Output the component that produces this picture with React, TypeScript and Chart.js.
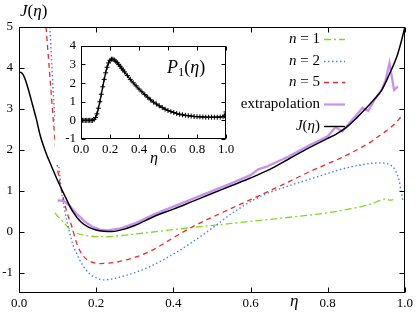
import React, { useEffect, useRef } from "react";
import { Chart, registerables } from "chart.js";
Chart.register(...registerables);

// ---------- data ----------
const xTicks = [0, 0.2, 0.4, 0.6, 0.8, 1.0];
const yTicks = [-1, 0, 1, 2, 3, 4, 5];
const insetXTicks = [0, 0.2, 0.4, 0.6, 0.8, 1.0];
const insetYTicks = [-1, 0, 1, 2, 3, 4];

const jEta = [0, 0.008, 0.015, 0.025, 0.035, 0.045, 0.055, 0.07, 0.085, 0.1, 0.12, 0.14, 0.16, 0.18, 0.2, 0.22, 0.24, 0.26, 0.3, 0.35, 0.4, 0.45, 0.5, 0.55, 0.6, 0.65, 0.7, 0.75, 0.8, 0.82, 0.85, 0.875, 0.9, 0.92, 0.94, 0.96, 0.98, 0.99, 1.0];
const jVal = [3.9, 3.87, 3.75, 3.45, 3.1, 2.75, 2.35, 1.92, 1.58, 1.25, 0.85, 0.48, 0.24, 0.11, 0.04, 0.01, 0.0, 0.03, 0.15, 0.37, 0.55, 0.74, 0.93, 1.12, 1.31, 1.52, 1.78, 2.04, 2.28, 2.37, 2.56, 2.78, 3.02, 3.23, 3.46, 3.85, 4.3, 4.62, 5.0];

const extEta = [0.1, 0.115, 0.13, 0.15, 0.17, 0.19, 0.21, 0.23, 0.26, 0.3, 0.35, 0.4, 0.45, 0.5, 0.55, 0.6, 0.62, 0.64, 0.7, 0.75, 0.8, 0.82, 0.838, 0.87, 0.89, 0.905, 0.92, 0.94, 0.95, 0.96, 0.972, 0.982];
const extVal = [0.76, 0.75, 0.64, 0.43, 0.25, 0.12, 0.05, 0.03, 0.07, 0.2, 0.42, 0.61, 0.8, 0.99, 1.18, 1.38, 1.52, 1.58, 1.84, 2.1, 2.33, 2.55, 2.45, 2.8, 3.02, 2.95, 3.2, 3.46, 3.7, 4.12, 3.46, 3.55];

const n1Eta = [0.093, 0.1, 0.114, 0.132, 0.15, 0.17, 0.2, 0.23, 0.27, 0.32, 0.4, 0.47, 0.55, 0.6, 0.65, 0.73, 0.8, 0.86, 0.9, 0.93, 0.95, 0.962, 0.97];
const n1Val = [0.46, 0.38, 0.24, 0.06, -0.04, -0.09, -0.12, -0.12, -0.09, -0.04, 0.05, 0.12, 0.2, 0.25, 0.3, 0.38, 0.46, 0.56, 0.64, 0.74, 0.8, 0.77, 0.78];

const n2Eta = [0.08, 0.085, 0.09, 0.097, 0.11, 0.12, 0.13, 0.14, 0.15, 0.165, 0.183, 0.2, 0.218, 0.25, 0.3, 0.34, 0.4, 0.45, 0.5, 0.56, 0.63, 0.7, 0.77, 0.83, 0.88, 0.93, 0.96, 0.975, 0.985, 0.99, 0.995];
const n2Val = [5.0, 4.1, 3.2, 2.3, 1.0, 0.45, 0.02, -0.33, -0.55, -0.82, -1.03, -1.13, -1.18, -1.14, -1.0, -0.85, -0.55, -0.25, 0.08, 0.5, 0.88, 1.12, 1.33, 1.51, 1.62, 1.68, 1.64, 1.5, 1.25, 1.0, 0.75];

const n5Eta = [0.07, 0.08, 0.09, 0.1, 0.114, 0.125, 0.137, 0.15, 0.165, 0.183, 0.21, 0.25, 0.3, 0.34, 0.4, 0.45, 0.5, 0.553, 0.6, 0.65, 0.7, 0.75, 0.8, 0.83, 0.86, 0.89, 0.91, 0.93, 0.95, 0.97, 0.985, 0.995];
const n5Val = [5.0, 3.8, 2.6, 1.55, 0.85, 0.45, 0.12, -0.3, -0.58, -0.72, -0.78, -0.75, -0.63, -0.48, -0.15, 0.12, 0.35, 0.58, 0.78, 1.0, 1.22, 1.45, 1.66, 1.78, 1.92, 2.07, 2.18, 2.32, 2.45, 2.6, 2.75, 2.87];

const p1Eta = [0, 0.01, 0.02, 0.03, 0.04, 0.05, 0.06, 0.07, 0.08, 0.09, 0.1, 0.11, 0.12, 0.13, 0.14, 0.15, 0.16, 0.17, 0.18, 0.19, 0.2, 0.21, 0.22, 0.23, 0.24, 0.25, 0.26, 0.27, 0.28, 0.29, 0.3, 0.32, 0.34, 0.36, 0.38, 0.4, 0.42, 0.44, 0.46, 0.48, 0.5, 0.52, 0.54, 0.56, 0.58, 0.6, 0.62, 0.64, 0.66, 0.68, 0.7, 0.72, 0.74, 0.76, 0.78, 0.8, 0.82, 0.84, 0.86, 0.88, 0.9, 0.92, 0.94, 0.96, 0.98, 0.99, 1.0];
const p1Val = [0, 0, 0, 0, 0, 0, 0, 0, 0, 0.05, 0.15, 0.35, 0.65, 1.0, 1.4, 1.8, 2.2, 2.55, 2.85, 3.08, 3.22, 3.28, 3.28, 3.24, 3.17, 3.09, 3.0, 2.9, 2.8, 2.7, 2.6, 2.4, 2.2, 2.02, 1.85, 1.68, 1.53, 1.38, 1.24, 1.1, 0.98, 0.88, 0.78, 0.69, 0.6, 0.53, 0.47, 0.42, 0.37, 0.33, 0.3, 0.27, 0.25, 0.23, 0.21, 0.2, 0.19, 0.18, 0.17, 0.17, 0.17, 0.17, 0.17, 0.18, 0.2, 0.25, 0.45];

// ---------- styles ----------
const FONT = "'Liberation Serif', 'Times New Roman', serif";
const GREEN = "#80d820";
const BLUE = "#4a80e0";
const RED = "#f02828";
const VIOLET = "#c890f0";
const BLACK = "#000000";

const pts = (xs: number[], ys: number[]) => xs.map((x, i) => ({ x, y: ys[i] }));

type Seg = { t: string; i?: boolean; sub?: boolean };
function richWidth(ctx: CanvasRenderingContext2D, segs: Seg[], size: number) {
  let w = 0;
  for (const s of segs) {
    ctx.font = `${s.i ? "italic " : ""}${s.sub ? size * 0.7 : size}px ${FONT}`;
    w += ctx.measureText(s.t).width;
  }
  return w;
}
function drawRich(ctx: CanvasRenderingContext2D, segs: Seg[], x: number, y: number, size: number, align: "left" | "right") {
  let cx = align === "right" ? x - richWidth(ctx, segs, size) : x;
  ctx.textAlign = "left";
  ctx.textBaseline = "middle";
  ctx.fillStyle = "#000";
  for (const s of segs) {
    ctx.font = `${s.i ? "italic " : ""}${s.sub ? size * 0.7 : size}px ${FONT}`;
    ctx.fillText(s.t, cx, s.sub ? y + size * 0.25 : y);
    cx += ctx.measureText(s.t).width;
  }
}

function frameAndTicks(xt: number[], yt: number[], len: number) {
  return {
    id: "frameTicks",
    afterDatasetsDraw(chart: any) {
      const { ctx, chartArea: a, scales } = chart;
      const L = Math.round(a.left) + 0.5, R = Math.round(a.right) - 0.5;
      const T = Math.round(a.top) + 0.5, B = Math.round(a.bottom) - 0.5;
      ctx.save();
      ctx.strokeStyle = "#000";
      ctx.lineWidth = 1;
      ctx.setLineDash([]);
      ctx.strokeRect(L, T, R - L, B - T);
      ctx.beginPath();
      for (const v of xt) {
        const px = Math.round(scales.x.getPixelForValue(v)) + 0.5;
        ctx.moveTo(px, B); ctx.lineTo(px, B - len);
        ctx.moveTo(px, T); ctx.lineTo(px, T + len);
      }
      for (const v of yt) {
        const py = Math.round(scales.y.getPixelForValue(v)) + 0.5;
        ctx.moveTo(L, py); ctx.lineTo(L + len, py);
        ctx.moveTo(R, py); ctx.lineTo(R - len, py);
      }
      ctx.stroke();
      ctx.restore();
    },
  };
}

const legendRows: { segs: Seg[]; color: string; dash: number[]; width: number }[] = [
  { segs: [{ t: "n", i: true }, { t: " = 1" }], color: GREEN, dash: [7, 3, 2, 3], width: 1.4 },
  { segs: [{ t: "n", i: true }, { t: " = 2" }], color: BLUE, dash: [1.5, 2.5], width: 1.4 },
  { segs: [{ t: "n", i: true }, { t: " = 5" }], color: RED, dash: [5, 4], width: 1.4 },
  { segs: [{ t: "extrapolation" }], color: VIOLET, dash: [], width: 2.2 },
  { segs: [{ t: "J", i: true }, { t: "(" }, { t: "η", i: true }, { t: ")" }], color: BLACK, dash: [], width: 1.4 },
];
const legendY = [39, 61, 82, 104, 126];

const mainDecor = {
  id: "mainDecor",
  afterDraw(chart: any) {
    const ctx = chart.ctx as CanvasRenderingContext2D;
    ctx.save();
    legendRows.forEach((r, k) => {
      const y = legendY[k];
      drawRich(ctx, r.segs, 320, y, 15, "right");
      ctx.beginPath();
      ctx.strokeStyle = r.color;
      ctx.lineWidth = r.width;
      ctx.setLineDash(r.dash);
      ctx.moveTo(324, y + 0.5);
      ctx.lineTo(345, y + 0.5);
      ctx.stroke();
    });
    ctx.setLineDash([]);
    drawRich(ctx, [{ t: "J", i: true }, { t: "(" }, { t: "η", i: true }, { t: ")" }], 20, 12, 17, "left");
    drawRich(ctx, [{ t: "η", i: true }], 290, 302, 17, "left");
    ctx.restore();
  },
};

const insetDecor = {
  id: "insetDecor",
  beforeDraw(chart: any) {
    const ctx = chart.ctx as CanvasRenderingContext2D;
    ctx.save();
    ctx.fillStyle = "#fff";
    ctx.fillRect(0, 0, 173, chart.height);
    ctx.restore();
  },
  afterDraw(chart: any) {
    const ctx = chart.ctx as CanvasRenderingContext2D;
    ctx.save();
    drawRich(ctx, [{ t: "P", i: true }, { t: "1", sub: true }, { t: "(" }, { t: "η", i: true }, { t: ")" }], 112, 35, 18, "left");
    drawRich(ctx, [{ t: "η", i: true }], 95, 126, 16, "left");
    ctx.restore();
  },
};

const tickFont = { family: FONT, size: 13 };

export default function App() {
  const mainRef = useRef<HTMLCanvasElement>(null);
  const insetRef = useRef<HTMLCanvasElement>(null);

  useEffect(() => {
    const common = (w: number) => ({ borderWidth: w, pointRadius: 0, fill: false });
    const main = new Chart(mainRef.current!, {
      type: "line",
      data: {
        datasets: [
          { label: "J", data: pts(jEta, jVal), borderColor: BLACK, ...common(1.5), cubicInterpolationMode: "monotone", order: 0 } as any,
          { label: "ext", data: pts(extEta, extVal), borderColor: VIOLET, ...common(2.3), tension: 0, order: 1 } as any,
          { label: "n5", data: pts(n5Eta, n5Val), borderColor: RED, borderDash: [5, 4], ...common(1.3), cubicInterpolationMode: "monotone", order: 2 } as any,
          { label: "n2", data: pts(n2Eta, n2Val), borderColor: BLUE, borderDash: [1.5, 2.5], ...common(1.4), cubicInterpolationMode: "monotone", order: 3 } as any,
          { label: "n1", data: pts(n1Eta, n1Val), borderColor: GREEN, borderDash: [7, 3, 2, 3], ...common(1.3), cubicInterpolationMode: "monotone", order: 4 } as any,
        ],
      },
      options: {
        animation: false,
        responsive: false,
        maintainAspectRatio: false,
        layout: { padding: { top: 27, right: 10, left: 0, bottom: 0 } },
        plugins: { legend: { display: false }, tooltip: { enabled: false } },
        scales: {
          x: {
            type: "linear", min: 0, max: 1,
            afterBuildTicks: (s: any) => { s.ticks = xTicks.map((v) => ({ value: v })); },
            afterFit: (s: any) => { s.height = 27; },
            ticks: { callback: (v: any) => Number(v).toFixed(1), font: tickFont, color: "#000", padding: 3, maxRotation: 0, autoSkip: false },
            grid: { display: false, drawTicks: false },
            border: { display: false },
          },
          y: {
            type: "linear", min: -1.5, max: 5,
            afterBuildTicks: (s: any) => { s.ticks = yTicks.map((v) => ({ value: v })); },
            afterFit: (s: any) => { s.width = 19; },
            ticks: { callback: (v: any) => String(v), font: tickFont, color: "#000", padding: 6 },
            grid: { display: false, drawTicks: false },
            border: { display: false },
          },
        },
      } as any,
      plugins: [frameAndTicks(xTicks, yTicks, 5), mainDecor],
    });

    const inset = new Chart(insetRef.current!, {
      type: "line",
      data: {
        datasets: [
          {
            label: "P1", data: pts(p1Eta, p1Val), borderColor: BLACK, borderWidth: 1.4,
            pointStyle: "cross", pointRadius: 2.5, pointBorderWidth: 1, pointBorderColor: BLACK,
            cubicInterpolationMode: "monotone", fill: false,
          } as any,
        ],
      },
      options: {
        animation: false,
        responsive: false,
        maintainAspectRatio: false,
        layout: { padding: { top: 8, right: 14, left: 0, bottom: 0 } },
        plugins: { legend: { display: false }, tooltip: { enabled: false } },
        scales: {
          x: {
            type: "linear", min: 0, max: 1,
            afterBuildTicks: (s: any) => { s.ticks = insetXTicks.map((v) => ({ value: v })); },
            afterFit: (s: any) => { s.height = 26; },
            ticks: { callback: (v: any) => Number(v).toFixed(1), font: tickFont, color: "#000", padding: 3, maxRotation: 0, autoSkip: false },
            grid: { display: false, drawTicks: false },
            border: { display: false },
          },
          y: {
            type: "linear", min: -1, max: 4,
            afterBuildTicks: (s: any) => { s.ticks = insetYTicks.map((v) => ({ value: v })); },
            afterFit: (s: any) => { s.width = 26; },
            ticks: { callback: (v: any) => String(v), font: tickFont, color: "#000", padding: 5 },
            grid: { display: false, drawTicks: false },
            border: { display: false },
          },
        },
      } as any,
      plugins: [frameAndTicks(insetXTicks, insetYTicks, 4), insetDecor],
    });

    return () => { main.destroy(); inset.destroy(); };
  }, []);

  return (
    <div style={{ position: "fixed", left: 0, top: 0, width: 416, height: 320, background: "#fff" }}>
      <canvas ref={mainRef} width={416} height={320} style={{ position: "absolute", left: 0, top: 0, width: 416, height: 320 }} />
      <canvas ref={insetRef} width={185} height={132} style={{ position: "absolute", left: 55, top: 33, width: 185, height: 132 }} />
    </div>
  );
}
